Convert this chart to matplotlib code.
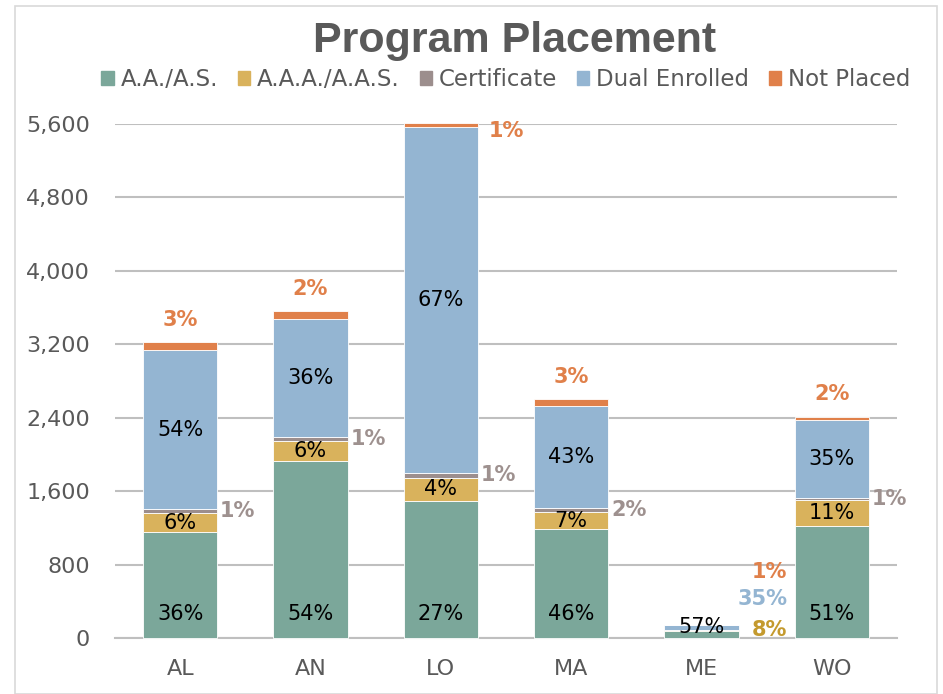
import matplotlib
matplotlib.use("Agg")
import matplotlib.pyplot as plt
from matplotlib.patches import Rectangle
import numpy as np

categories = ["AL", "AN", "LO", "MA", "ME", "WO"]
series_names = ["A.A./A.S.", "A.A.A./A.A.S.", "Certificate", "Dual Enrolled", "Not Placed"]
aa_as = [1155, 1933, 1497, 1188, 80, 1224]
aaa_aas = [205, 211, 247, 182, 11, 277]
certificate = [43, 44, 58, 50, 0, 22]
dual_enrolled = [1730, 1286, 3764, 1110, 49, 850]
not_placed = [92, 85, 44, 70, 1, 40]
y_ticks = [0, 800, 1600, 2400, 3200, 4000, 4800, 5600]

colors = ["#7BA79A", "#D9B25C", "#9C8E8D", "#94B5D2", "#E0804A"]
plt.rcParams['font.family'] = ['DejaVu Sans']

fig = plt.figure(figsize=(9.43, 6.94), dpi=100)
W, H = 943, 694
ax = fig.add_axes([115 / W, 1 - 638 / H, (897 - 115) / W, (638 - 124) / H])

series = [aa_as, aaa_aas, certificate, dual_enrolled, not_placed]
x = np.arange(len(categories))
width = 0.568
bottoms = np.zeros(len(categories))
totals = np.sum(np.array(series, dtype=float), axis=0)
bars = []
for vals, col, name in zip(series, colors, series_names):
    ax.bar(x, vals, width, bottom=bottoms, color=col, label=name,
           edgecolor="white", linewidth=0.6, zorder=3, clip_on=False)
    bars.append((np.array(vals, dtype=float), bottoms.copy()))
    bottoms = bottoms + np.array(vals, dtype=float)

ax.set_xlim(-0.5, len(categories) - 0.5)
ax.set_ylim(0, 5600)
ax.set_yticks(y_ticks)
ax.set_yticklabels([f"{t:,}" for t in y_ticks])
ax.set_xticks(x)
ax.set_xticklabels(categories)
ax.tick_params(axis='both', length=0, labelsize=16, colors="#595959")
ax.tick_params(axis='y', pad=18)
ax.tick_params(axis='x', pad=15)
ax.grid(axis='y', color="#BFBFBF", linewidth=1.5, zorder=0)
for s in ["top", "right", "left"]:
    ax.spines[s].set_visible(False)
ax.spines["bottom"].set_color("#BFBFBF")
ax.spines["bottom"].set_linewidth(1.5)

lab_fs = 15
pct = lambda v, t: f"{int(round(v / t * 100))}%"
small_cat = 4  # ME, too small for inside labels
for i in range(len(categories)):
    t = totals[i]
    for si, (vals, bots) in enumerate(bars):
        v = vals[i]
        if v <= 0:
            continue
        txt = pct(v, t)
        mid = bots[i] + v / 2
        right = x[i] + width / 2
        if i == small_cat and si > 0:
            off = {1: 0, 3: 19, 4: 38}[si]
            lc = {1: "#C49A2E", 3: "#94B5D2", 4: "#E0804A"}[si]
            ax.annotate(txt, (right, bots[i] + v), xytext=(35, off),
                        textcoords='offset points', ha='right', va='center',
                        fontsize=lab_fs, fontweight='bold', color=lc, zorder=5)
            continue
        if si == 0:
            dy = 8 if i == small_cat else 17
            ax.annotate(txt, (x[i], bots[i]), xytext=(0, dy), textcoords='offset points',
                        ha='center', va='center', fontsize=lab_fs, color="black", zorder=5)
        elif si in (1, 3):
            ax.text(x[i], mid, txt, ha='center', va='center', fontsize=lab_fs,
                    color="black", zorder=5)
        elif si == 2:
            ax.annotate(txt, (right, mid), xytext=(2, 0), textcoords='offset points',
                        ha='left', va='center', fontsize=lab_fs, fontweight='bold',
                        color="#9E918F", zorder=5)
        elif si == 4:
            top = bots[i] + v
            if top > 5200:
                ax.annotate(txt, (right, top), xytext=(8, -6), textcoords='offset points',
                            ha='left', va='center', fontsize=lab_fs, fontweight='bold',
                            color="#E0804A", zorder=5, annotation_clip=False)
            else:
                ax.annotate(txt, (x[i], top), xytext=(0, 16), textcoords='offset points',
                            ha='center', va='center', fontsize=lab_fs, fontweight='bold',
                            color="#E0804A", zorder=5)

fig.text(515 / W, 1 - 41 / H, "Program Placement", ha='center', va='center',
         fontsize=31, fontweight='bold', color="#595959", family=['Liberation Sans', 'DejaVu Sans'])

handles = [Rectangle((0, 0), 1, 1, color=c) for c in colors]
fig.legend(handles, series_names, loc='center', bbox_to_anchor=(506 / W, 1 - 80 / H),
           ncol=5, frameon=False, fontsize=16.5, handlelength=0.55, handleheight=0.55,
           handletextpad=0.3, columnspacing=0.85, labelcolor="#595959")

fig.patches.append(Rectangle((15 / W, 0), 922 / W, 1 - 6 / H, transform=fig.transFigure,
                             fill=False, edgecolor="#D9D9D9", linewidth=1.2))

fig.savefig("out.png", dpi=100)
